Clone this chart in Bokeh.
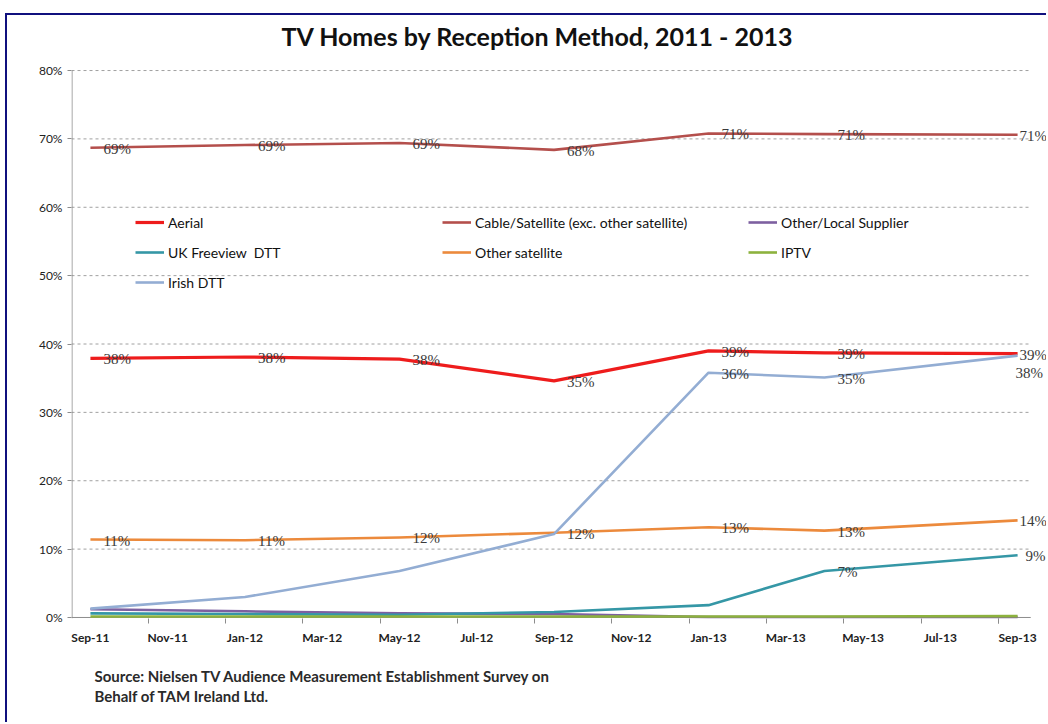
from bokeh.plotting import figure
from bokeh.models import (Range1d, FixedTicker, Legend, LegendItem, LabelSet, Label, Title,
                          ColumnDataSource)
from bokeh.embed import file_html
from bokeh.resources import INLINE

# ---------------- data ----------------
title_text = "TV Homes by Reception Method, 2011 - 2013"
source_lines = ["Source: Nielsen TV Audience Measurement Establishment Survey on",
                "Behalf of TAM Ireland Ltd."]

# survey points, as months since Sep-2011 (Sep-11, Jan-12, May-12, Sep-12, Jan-13, Apr-13, Sep-13)
months = [0, 4, 8, 12, 16, 19, 24]

x_tick_months = [0, 2, 4, 6, 8, 10, 12, 14, 16, 18, 20, 22, 24]
x_tick_labels = ["Sep-11", "Nov-11", "Jan-12", "Mar-12", "May-12", "Jul-12", "Sep-12",
                 "Nov-12", "Jan-13", "Mar-13", "May-13", "Jul-13", "Sep-13"]
y_ticks = [0, 10, 20, 30, 40, 50, 60, 70, 80]
y_tick_labels = ["0%", "10%", "20%", "30%", "40%", "50%", "60%", "70%", "80%"]

series_names = ["Aerial", "Cable/Satellite (exc. other satellite)", "Other/Local Supplier",
                "UK Freeview  DTT", "Other satellite", "IPTV", "Irish DTT"]

aerial      = [37.9, 38.1, 37.8, 34.6, 39.0, 38.7, 38.6]
cable_sat   = [68.7, 69.1, 69.4, 68.4, 70.8, 70.7, 70.6]
other_local = [1.2, 0.9, 0.6, 0.5, 0.05, 0.05, 0.05]
uk_freeview = [0.6, 0.5, 0.4, 0.8, 1.8, 6.8, 9.1]
other_sat   = [11.4, 11.3, 11.7, 12.4, 13.2, 12.7, 14.2]
iptv        = [0.15, 0.15, 0.15, 0.15, 0.15, 0.15, 0.2]
irish_dtt   = [1.3, 3.0, 6.8, 12.2, 35.8, 35.1, 38.3]

# which points carry a data label
aerial_lab      = [True] * 7
cable_lab       = [True] * 7
other_sat_lab   = [True] * 7
uk_freeview_lab = [False, False, False, False, False, True, True]
irish_lab       = [False, False, False, False, True, True, True]

# ---------------- styles ----------------
colors = {
    "Aerial": "#ee1c1c",
    "Cable/Satellite (exc. other satellite)": "#b44f4c",
    "Other/Local Supplier": "#7d60a0",
    "UK Freeview  DTT": "#3597a6",
    "Other satellite": "#ec8a3c",
    "IPTV": "#8db23e",
    "Irish DTT": "#93add3",
}
widths = {
    "Aerial": 3.2,
    "Cable/Satellite (exc. other satellite)": 2.6,
    "Other/Local Supplier": 2.6,
    "UK Freeview  DTT": 2.6,
    "Other satellite": 2.6,
    "IPTV": 2.6,
    "Irish DTT": 2.6,
}
FONT = "Lato"
X_LO, X_HI = -0.49, 24.80      # visible month range (frame runs to the right edge)
X_AXIS_END = 24.34             # where axis line / gridlines stop
Y_LO, Y_HI = -0.15, 88.05      # frame also covers the title band above 80%
Y_AXIS_TOP = 80

p = figure(width=1041, height=709, output_backend="svg", toolbar_location=None,
           x_range=Range1d(X_LO, X_HI), y_range=Range1d(Y_LO, Y_HI),
           min_border_left=64, min_border_right=0, min_border_top=0, min_border_bottom=106,
           margin=(13, 0, 0, 5),
           styles={"border-top": "2px solid #10107e", "border-left": "2px solid #10107e"})
p.title.visible = False
p.outline_line_color = None
p.background_fill_color = "white"
p.border_fill_color = "white"

# title, drawn inside the top band of the frame
p.add_layout(Label(x=11.58, y=85.0, text=title_text, text_align="center", text_baseline="middle",
                   text_font=FONT, text_font_size="25px", text_font_style="bold",
                   text_color="#111111"))

# axes
p.xaxis.ticker = FixedTicker(ticks=x_tick_months,
                             minor_ticks=[m - 0.5 for m in x_tick_months] + [23.5])
p.xaxis.major_label_overrides = dict(zip(x_tick_months, x_tick_labels))
p.xaxis.major_tick_line_color = None
p.xaxis.major_tick_out = 0
p.xaxis.major_tick_in = 0
p.xaxis.minor_tick_line_color = "#8c8c8c"
p.xaxis.minor_tick_out = 5
p.xaxis.minor_tick_in = 0
p.xaxis.axis_line_color = None
p.xaxis.major_label_standoff = 6
p.xaxis.major_label_text_font = FONT
p.xaxis.major_label_text_font_size = "12px"
p.xaxis.major_label_text_font_style = "bold"
p.xaxis.major_label_text_color = "#222222"

p.yaxis.ticker = FixedTicker(ticks=y_ticks, minor_ticks=[])
p.yaxis.major_label_overrides = dict(zip(y_ticks, y_tick_labels))
p.yaxis.major_tick_line_color = "#8c8c8c"
p.yaxis.major_tick_out = 4
p.yaxis.major_tick_in = 0
p.yaxis.minor_tick_line_color = None
p.yaxis.axis_line_color = None
p.yaxis.major_label_standoff = 5
p.yaxis.major_label_text_font = FONT
p.yaxis.major_label_text_font_size = "12px"
p.yaxis.major_label_text_color = "#222222"

p.xgrid.grid_line_color = None
p.ygrid.grid_line_color = None

# dashed gridlines and axis lines that stop where the reference's plot area stops
grid_levels = y_ticks[1:]
p.segment(x0=[X_LO] * len(grid_levels), x1=[X_AXIS_END] * len(grid_levels),
          y0=grid_levels, y1=grid_levels, line_color="#a0a0a0", line_dash="3 3", line_width=1)
p.segment(x0=[X_LO], x1=[X_AXIS_END], y0=[0], y1=[0], line_color="#8c8c8c", line_width=1)
p.segment(x0=[X_LO + 0.013], x1=[X_LO + 0.013], y0=[Y_LO], y1=[Y_AXIS_TOP],
          line_color="#8c8c8c", line_width=1)

series_values = [aerial, cable_sat, other_local, uk_freeview, other_sat, iptv, irish_dtt]
renderers = {}
for name, vals in zip(series_names, series_values):
    src = ColumnDataSource(dict(x=months, y=vals))
    renderers[name] = p.line("x", "y", source=src, line_color=colors[name],
                             line_width=widths[name], line_join="round")

# data labels (right of each point; the last point's label sits closer)
DX = [13, 13, 13, 13, 13, 13, 2]
DY = [-1, -1, -1, -1, -1, -1, -1]

def add_labels(vals, mask, dx=DX, dy=DY):
    xs, ys, texts, dxs, dys = [], [], [], [], []
    for i, (m, v, k) in enumerate(zip(months, vals, mask)):
        if k:
            xs.append(m)
            ys.append(v)
            texts.append(f"{v:.0f}%")
            dxs.append(dx[i])
            dys.append(dy[i])
    src = ColumnDataSource(dict(x=xs, y=ys, text=texts, dx=dxs, dy=dys))
    p.add_layout(LabelSet(x="x", y="y", text="text", source=src, x_offset="dx", y_offset="dy",
                          text_align="left", text_baseline="middle", text_font=FONT,
                          text_font_size="15px", text_color="#3a3a3a"))

add_labels(cable_sat, cable_lab)
add_labels(aerial, aerial_lab)
add_labels(other_sat, other_sat_lab)
add_labels(uk_freeview, uk_freeview_lab, dx=DX[:6] + [8])
add_labels(irish_dtt, irish_lab, dx=DX[:6] + [-2], dy=DY[:6] + [-17])

# legend in three columns
legend_cols = [
    (["Aerial", "UK Freeview  DTT", "Irish DTT"], (64, 326)),
    (["Cable/Satellite (exc. other satellite)", "Other satellite"], (371, 356)),
    (["Other/Local Supplier", "IPTV"], (677, 356)),
]
for names, loc in legend_cols:
    leg = Legend(items=[LegendItem(label=n, renderers=[renderers[n]]) for n in names],
                 location=loc, orientation="vertical", padding=0, margin=0, spacing=10,
                 glyph_width=29, glyph_height=20, label_height=20, label_standoff=4,
                 border_line_color=None, background_fill_alpha=0,
                 label_text_font=FONT, label_text_font_size="14px", label_text_color="#111111")
    p.add_layout(leg)

# source note below the chart
p.add_layout(Title(text="\n".join(source_lines), align="left", offset=23, standoff=35,
                   text_font=FONT, text_font_size="15px", text_font_style="bold",
                   text_line_height=1.1, text_color="#2a2a2a"), "below")

open("out.html", "w").write(file_html(p, INLINE))
